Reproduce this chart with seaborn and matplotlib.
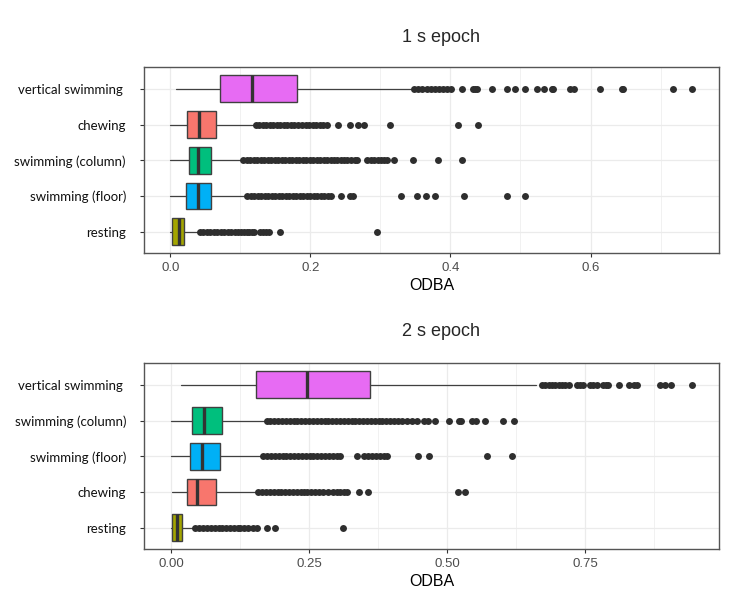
import numpy as np
import pandas as pd
import matplotlib
matplotlib.use("Agg")
import matplotlib.pyplot as plt
import seaborn as sns

# ggplot-style hue colours per behaviour
palette = {"vertical swimming": "#E76BF3", "chewing": "#F8766D",
           "swimming (column)": "#00BF7D", "swimming (floor)": "#00B0F6",
           "resting": "#A3A500"}

# ---- 1 s epoch ----
cats_1s = ["vertical swimming", "chewing", "swimming (column)", "swimming (floor)", "resting"]
low_1s = [0.008, 0.0, 0.0, 0.0, 0.0]
q1_1s = [0.0705, 0.0243, 0.026, 0.022, 0.003]
med_1s = [0.116, 0.0405, 0.040, 0.040, 0.0125]
q3_1s = [0.181, 0.0648, 0.0577, 0.0577, 0.020]
high_1s = [0.346, 0.121, 0.1034, 0.109, 0.040]

out_vert_1s = [0.348, 0.354, 0.360, 0.366, 0.372, 0.378, 0.384, 0.390, 0.395, 0.401, 0.417,
               0.432, 0.435, 0.438, 0.460, 0.481, 0.492, 0.507, 0.523, 0.533, 0.545, 0.547,
               0.571, 0.576, 0.614, 0.645, 0.647, 0.718, 0.745]
out_chew_1s = [0.122, 0.127, 0.132, 0.137, 0.142, 0.147, 0.152, 0.157, 0.162, 0.167, 0.172,
               0.177, 0.183, 0.188, 0.193, 0.198, 0.203, 0.208, 0.213, 0.218, 0.223,
               0.240, 0.257, 0.268, 0.276, 0.314, 0.411, 0.439]
out_col_1s = [0.104, 0.109, 0.114, 0.119, 0.124, 0.129, 0.134, 0.139, 0.144, 0.149, 0.154,
              0.159, 0.164, 0.169, 0.174, 0.179, 0.184, 0.189, 0.194, 0.199, 0.204, 0.209,
              0.214, 0.219, 0.224, 0.229, 0.234, 0.238, 0.243, 0.248, 0.252, 0.258, 0.263,
              0.266, 0.281, 0.286, 0.291, 0.296, 0.301, 0.305, 0.309, 0.320, 0.346, 0.382, 0.416]
out_floor_1s = [0.110, 0.115, 0.120, 0.125, 0.130, 0.135, 0.140, 0.145, 0.150, 0.155, 0.160,
                0.165, 0.170, 0.175, 0.180, 0.185, 0.190, 0.195, 0.200, 0.205, 0.210, 0.215,
                0.220, 0.225, 0.230, 0.244, 0.256, 0.261, 0.330, 0.352, 0.365, 0.378, 0.419,
                0.481, 0.506]
out_rest_1s = [0.042, 0.047, 0.052, 0.057, 0.062, 0.067, 0.072, 0.077, 0.082, 0.087, 0.092,
               0.097, 0.101, 0.105, 0.109, 0.113, 0.117, 0.120, 0.128, 0.132, 0.137, 0.141,
               0.157, 0.295]

# ---- 2 s epoch ----
cats_2s = ["vertical swimming", "swimming (column)", "swimming (floor)", "chewing", "resting"]
low_2s = [0.018, 0.0, 0.0, 0.002, 0.0]
q1_2s = [0.154, 0.0386, 0.0344, 0.029, 0.002]
med_2s = [0.246, 0.0598, 0.056, 0.0477, 0.0114]
q3_2s = [0.3605, 0.093, 0.088, 0.082, 0.0194]
high_2s = [0.661, 0.172, 0.165, 0.157, 0.0435]

out_vert_2s = [0.672, 0.678, 0.684, 0.690, 0.696, 0.702, 0.708, 0.714, 0.720, 0.735, 0.741,
               0.747, 0.759, 0.765, 0.771, 0.783, 0.788, 0.792, 0.812, 0.830, 0.838, 0.844,
               0.885, 0.895, 0.906, 0.944]
out_col_2s = [0.173, 0.180, 0.187, 0.194, 0.201, 0.208, 0.215, 0.222, 0.229, 0.236, 0.243,
              0.250, 0.257, 0.264, 0.271, 0.278, 0.285, 0.292, 0.299, 0.306, 0.313, 0.320,
              0.327, 0.334, 0.341, 0.348, 0.355, 0.362, 0.369, 0.376, 0.383, 0.390, 0.397,
              0.404, 0.411, 0.418, 0.427, 0.436, 0.445, 0.459, 0.466, 0.478, 0.504, 0.521,
              0.525, 0.545, 0.553, 0.569, 0.602, 0.621]
out_floor_2s = [0.167, 0.174, 0.181, 0.188, 0.195, 0.202, 0.209, 0.216, 0.223, 0.230, 0.237,
                0.244, 0.251, 0.258, 0.265, 0.272, 0.279, 0.286, 0.293, 0.300, 0.306, 0.3375,
                0.350, 0.357, 0.364, 0.371, 0.378, 0.385, 0.392, 0.448, 0.467, 0.572, 0.618]
out_chew_2s = [0.158, 0.165, 0.172, 0.179, 0.186, 0.193, 0.200, 0.207, 0.214, 0.221, 0.228,
               0.235, 0.241, 0.247, 0.254, 0.261, 0.268, 0.276, 0.284, 0.294, 0.300, 0.306,
               0.313, 0.319, 0.341, 0.357, 0.519, 0.533]
out_rest_2s = [0.044, 0.051, 0.058, 0.065, 0.072, 0.079, 0.086, 0.093, 0.100, 0.107, 0.114,
               0.121, 0.125, 0.132, 0.140, 0.148, 0.155, 0.173, 0.188, 0.312]

outliers_1s = {"vertical swimming": out_vert_1s, "chewing": out_chew_1s,
               "swimming (column)": out_col_1s, "swimming (floor)": out_floor_1s,
               "resting": out_rest_1s}
outliers_2s = {"vertical swimming": out_vert_2s, "swimming (column)": out_col_2s,
               "swimming (floor)": out_floor_2s, "chewing": out_chew_2s,
               "resting": out_rest_2s}

sns.set_theme(style="whitegrid")
plt.rcParams["font.family"] = ["Liberation Sans", "DejaVu Sans"]

fig = plt.figure(figsize=(7.52, 6.11), dpi=100)
ax1 = fig.add_axes([0.1915, 0.5854, 0.7642, 0.3045])
ax2 = fig.add_axes([0.1919, 0.1010, 0.7638, 0.3044])


def draw_panel(ax, cats, low, q1, med, q3, high, outliers, xlim, xticks, xminor, ticklabels):
    # outlier points through seaborn on the categorical axis
    rows = []
    for c in cats:
        for v in outliers[c]:
            rows.append({"state": c, "ODBA": v})
    df = pd.DataFrame(rows)
    sns.stripplot(data=df, x="ODBA", y="state", order=cats, jitter=False,
                  color="#2e2e2e", size=5.0, linewidth=0, ax=ax, zorder=3)

    stats = []
    for i, c in enumerate(cats):
        stats.append({"whislo": low[i], "q1": q1[i], "med": med[i], "q3": q3[i],
                      "whishi": high[i], "fliers": []})
    bp = ax.bxp(stats, positions=range(len(cats)), widths=0.75, orientation="horizontal",
                patch_artist=True, showcaps=False, showfliers=False, manage_ticks=False,
                boxprops=dict(edgecolor="#404040", linewidth=1.0),
                medianprops=dict(color="#333333", linewidth=2.4, solid_capstyle="butt"),
                whiskerprops=dict(color="#404040", linewidth=0.9))
    for patch, c in zip(bp["boxes"], cats):
        patch.set_facecolor(palette[c])

    ax.set_ylim(len(cats) - 0.4, -0.6)
    ax.set_xlim(*xlim)
    ax.set_xticks(xticks)
    ax.set_xticklabels(ticklabels, fontsize=9.5, color="#4D4D4D")
    ax.set_xticks(xminor, minor=True)
    ax.set_yticks(range(len(cats)))
    ax.set_yticklabels([c + " " if c == "vertical swimming" else c for c in cats],
                       fontsize=9.5, color="#111111", family=["Lato", "DejaVu Sans"])
    ax.grid(which="major", color="#EBEBEB", linewidth=0.9)
    ax.grid(which="minor", axis="x", color="#EBEBEB", linewidth=0.5)
    ax.tick_params(axis="y", which="major", length=3, color="#333333", width=0.8, pad=10, left=True)
    ax.tick_params(axis="x", which="major", length=3, color="#333333", width=0.8, pad=3, bottom=True)
    ax.tick_params(which="minor", length=0)
    for s in ax.spines.values():
        s.set_color("#555555")
        s.set_linewidth(1.0)
    ax.set_facecolor("white")
    ax.set_ylabel("")
    ax.set_xlabel("ODBA", fontsize=11.5, color="black", labelpad=3)


draw_panel(ax1, cats_1s, low_1s, q1_1s, med_1s, q3_1s, high_1s, outliers_1s,
           (-0.0376, 0.783), [0.0, 0.2, 0.4, 0.6], [0.1, 0.3, 0.5, 0.7],
           ["0.0", "0.2", "0.4", "0.6"])
draw_panel(ax2, cats_2s, low_2s, q1_2s, med_2s, q3_2s, high_2s, outliers_2s,
           (-0.0484, 0.992), [0.0, 0.25, 0.5, 0.75], [0.125, 0.375, 0.625, 0.875],
           ["0.00", "0.25", "0.50", "0.75"])

fig.text(441 / 752, 1 - 37 / 611, "1 s epoch", ha="center", va="center", fontsize=13)
fig.text(441 / 752, 1 - 332 / 611, "2 s epoch", ha="center", va="center", fontsize=13)

fig.savefig("out.png", dpi=100, facecolor="white")
